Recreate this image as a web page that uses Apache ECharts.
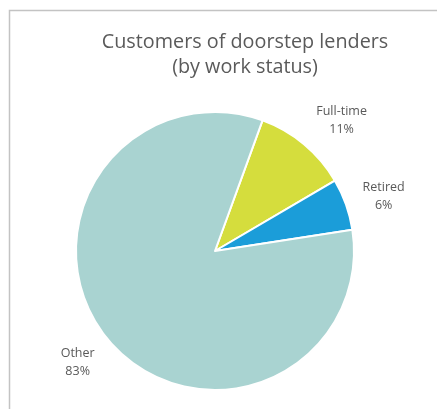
<!DOCTYPE html>
<html>
<head>
<meta charset="utf-8">
<style>
  html, body { margin: 0; padding: 0; background: #ffffff; }
  #chart { width: 437px; height: 409px; }
</style>
<script src="https://cdn.jsdelivr.net/npm/echarts@6/dist/echarts.min.js"></script>
</head>
<body>
<div id="chart"></div>
<script>
// Work status of doorstep-lender customers, in percent
const categories = ['Full-time', 'Retired', 'Other'];
const shares = [11, 6, 83];
const sliceColors = ['#d5dd3d', '#1b9dd9', '#a9d3d1'];

// small nudges so the outside labels sit clear of the slice edges
const labelNudge = [[12, 7], [0, 5], [1, -2]];

const chart = echarts.init(document.getElementById('chart'), null, { renderer: 'canvas' });

const pieData = categories.map((name, i) => ({
  name: name,
  value: shares[i],
  itemStyle: { color: sliceColors[i] }
}));

chart.setOption({
  backgroundColor: '#ffffff',
  animation: false,
  title: {
    text: 'Customers of doorstep lenders\n(by work status)',
    left: 240,
    top: 25,
    textAlign: 'center',
    textStyle: {
      fontFamily: 'Open Sans',
      fontWeight: 'normal',
      fontSize: 19.8,
      lineHeight: 25,
      color: '#5a5a5a'
    }
  },
  graphic: [{
    type: 'rect',
    silent: true,
    shape: { x: 9.5, y: 10.5, width: 600, height: 600 },
    style: { fill: 'none', stroke: '#c3c3c3', lineWidth: 1.5 }
  }],
  series: [{
    type: 'pie',
    center: [215, 251],
    radius: 139,
    startAngle: 70,
    clockwise: true,
    data: pieData,
    itemStyle: { borderColor: '#ffffff', borderWidth: 2 },
    label: {
      show: true,
      position: 'outside',
      overflow: 'none',
      formatter: p => p.name + '\n' + p.value + '%',
      fontFamily: 'Open Sans',
      fontSize: 12.5,
      lineHeight: 18,
      color: '#595959'
    },
    labelLine: { show: false, length: 40, length2: 0 },
    labelLayout: function (params) {
      const pts = params.labelLinePoints;
      if (!pts) return {};
      const end = pts[pts.length - 1];
      const nudge = labelNudge[params.dataIndex] || [0, 0];
      return { x: end[0] + nudge[0], y: end[1] + nudge[1], align: 'center', verticalAlign: 'middle' };
    }
  }]
});
</script>
</body>
</html>
